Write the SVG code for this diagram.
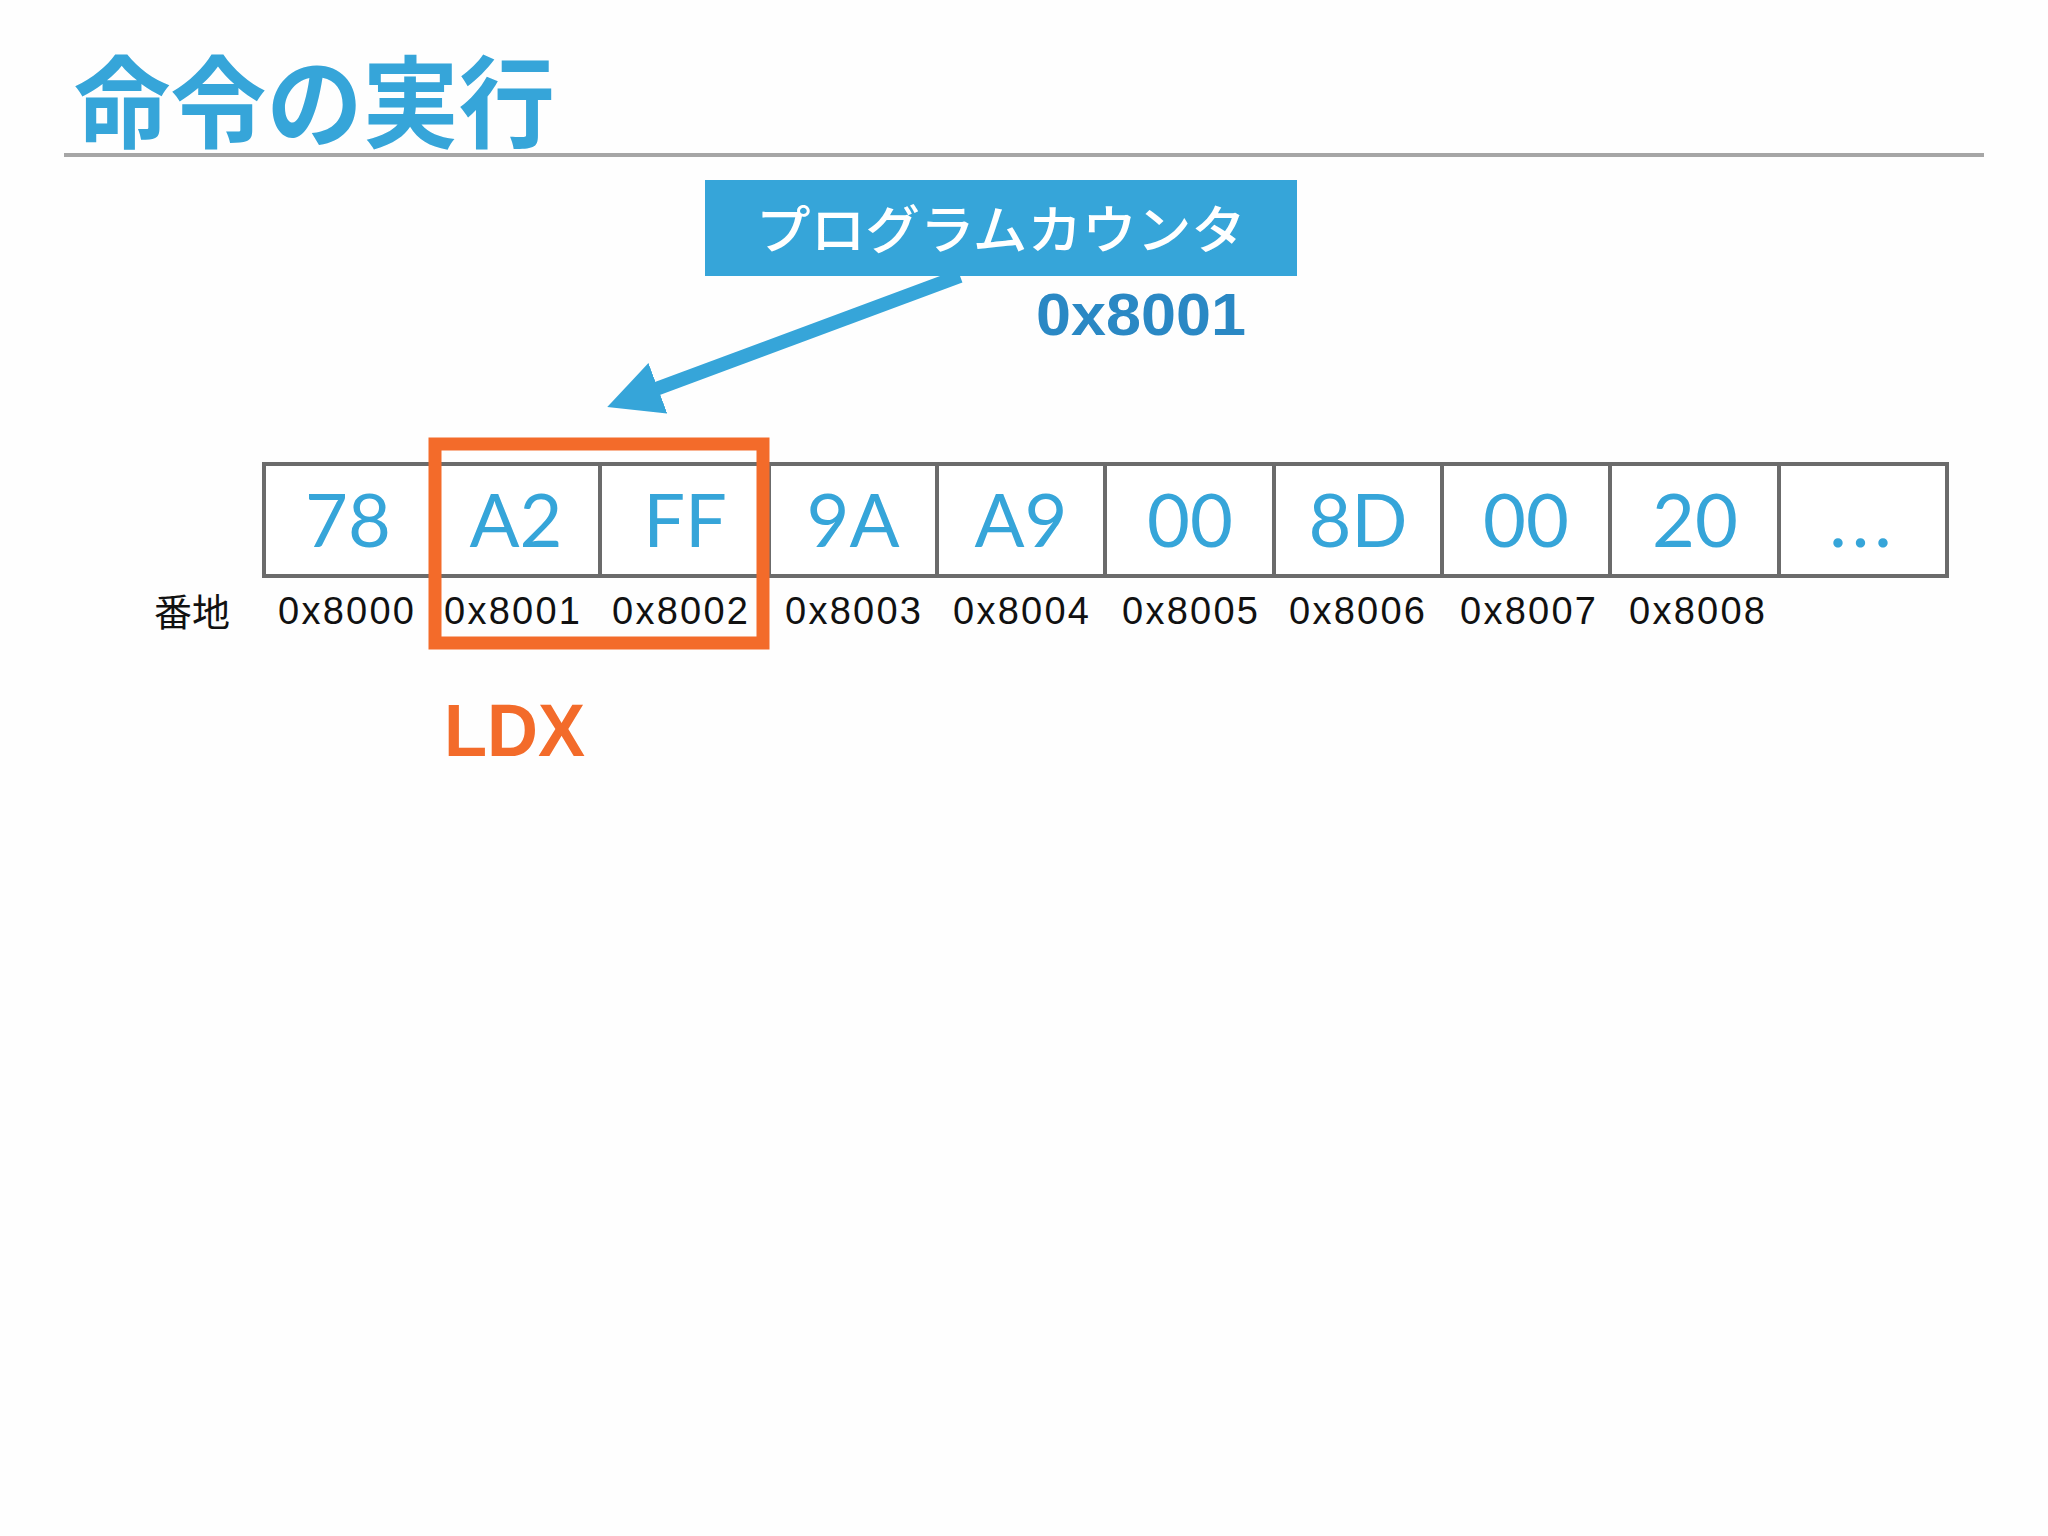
<svg xmlns="http://www.w3.org/2000/svg" width="2048" height="1536" viewBox="0 0 2048 1536">
  <style>
    .title { font-family: "Noto Sans CJK JP", "Noto Sans", sans-serif; font-weight: 700; font-size: 100px; fill: #36a5d9; }
    .cell { fill: #ffffff; stroke: #6b6b6b; stroke-width: 4; }
    .val { font-family: Lato, "Liberation Sans", sans-serif; font-size: 74px; fill: #36a5d9; text-anchor: middle; }
    .addr { font-family: "Liberation Sans", Arial, sans-serif; font-size: 38px; fill: #111111; text-anchor: middle; }
    .jp { font-family: "Noto Sans CJK JP", sans-serif; }
  </style>
  <defs>
    <marker id="ah" viewBox="0 0 54 54" refX="2" refY="27" markerWidth="54" markerHeight="54" markerUnits="userSpaceOnUse" orient="auto">
      <path d="M0,0 L54,27 L0,54 z" fill="#36a5d9"/>
    </marker>
  </defs>
  <rect width="2048" height="1536" fill="#fefefe"/>

  <g id="title">
    <text class="title" x="74" y="140" textLength="481" lengthAdjust="spacingAndGlyphs">命令の実行</text>
    <rect x="64" y="153" width="1920" height="4" fill="#a6a6a6"/>
  </g>

  <g id="connectors">
    <path d="M960,276 L656,389" stroke="#36a5d9" stroke-width="14" fill="none" marker-end="url(#ah)"/>
  </g>

  <g id="pc">
    <rect x="705" y="180" width="592" height="96" fill="#36a5d9"/>
    <text class="jp" x="1001" y="249" font-size="52" font-weight="500" fill="#ffffff" text-anchor="middle" textLength="490" lengthAdjust="spacingAndGlyphs">プログラムカウンタ</text>
    <text x="1246" y="335" font-family="'Liberation Sans', Arial, sans-serif" font-weight="700" font-size="60" fill="#2a88c4" text-anchor="end" textLength="210" lengthAdjust="spacingAndGlyphs">0x8001</text>
  </g>

  <g id="memory">
    <rect class="cell" x="264" y="464" width="1683" height="112"/>
    <g stroke="#6b6b6b" stroke-width="4">
      <line x1="432" y1="464" x2="432" y2="576"/>
      <line x1="600" y1="464" x2="600" y2="576"/>
      <line x1="769" y1="464" x2="769" y2="576"/>
      <line x1="937" y1="464" x2="937" y2="576"/>
      <line x1="1105" y1="464" x2="1105" y2="576"/>
      <line x1="1274" y1="464" x2="1274" y2="576"/>
      <line x1="1442" y1="464" x2="1442" y2="576"/>
      <line x1="1610" y1="464" x2="1610" y2="576"/>
      <line x1="1779" y1="464" x2="1779" y2="576"/>
    </g>
    <text class="val" x="348" y="547">78</text>
    <text class="val" x="516" y="547">A2</text>
    <text class="val" x="685" y="547">FF</text>
    <text class="val" x="853" y="547">9A</text>
    <text class="val" x="1021" y="547">A9</text>
    <text class="val" x="1190" y="547">00</text>
    <text class="val" x="1358" y="547">8D</text>
    <text class="val" x="1526" y="547">00</text>
    <text class="val" x="1695" y="547">20</text>
    <text class="val" x="1863" y="547" letter-spacing="5">...</text>
  </g>

  <g id="addresses">
    <text class="jp" x="154" y="626" font-size="38" fill="#111111">番地</text>
    <text class="addr" x="346" y="624" textLength="136" lengthAdjust="spacing">0x8000</text>
    <text class="addr" x="512" y="624" textLength="136" lengthAdjust="spacing">0x8001</text>
    <text class="addr" x="680" y="624" textLength="136" lengthAdjust="spacing">0x8002</text>
    <text class="addr" x="853" y="624" textLength="136" lengthAdjust="spacing">0x8003</text>
    <text class="addr" x="1021" y="624" textLength="136" lengthAdjust="spacing">0x8004</text>
    <text class="addr" x="1190" y="624" textLength="136" lengthAdjust="spacing">0x8005</text>
    <text class="addr" x="1357" y="624" textLength="136" lengthAdjust="spacing">0x8006</text>
    <text class="addr" x="1528" y="624" textLength="136" lengthAdjust="spacing">0x8007</text>
    <text class="addr" x="1697" y="624" textLength="136" lengthAdjust="spacing">0x8008</text>
  </g>

  <g id="ldx">
    <rect x="435" y="444" width="328" height="199" fill="none" stroke="#f36b2a" stroke-width="13"/>
    <text x="444" y="756" font-family="'Liberation Sans', Arial, sans-serif" font-weight="700" font-size="74" fill="#f36b2a" textLength="141" lengthAdjust="spacingAndGlyphs">LDX</text>
  </g>
</svg>
